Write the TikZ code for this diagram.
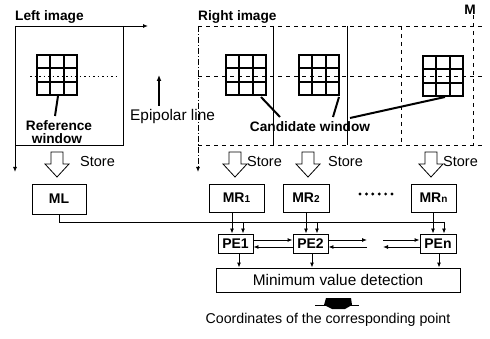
\documentclass[tikz,border=0pt]{standalone}
\usepackage{fontspec}
\setmainfont{Liberation Sans}
\usetikzlibrary{arrows.meta}
\begin{document}
\begin{tikzpicture}[x=1pt,y=-1pt,
  ar/.style={-{Latex[length=5pt,width=4pt]}, line width=0.9pt},
  ln/.style={line width=0.9pt},
  dsh/.style={line width=0.6pt, dash pattern=on 4pt off 4pt},
  dot/.style={line width=0.7pt, dash pattern=on 1.5pt off 3pt},
  box/.style={draw, line width=0.9pt, inner sep=0pt, font=\bfseries\fontsize{14}{16}\selectfont},
  lbl/.style={inner sep=0pt, font=\bfseries\fontsize{13.7}{15}\selectfont},
  txt/.style={inner sep=0pt, font=\fontsize{14.5}{16}\selectfont},
  ptr/.style={line width=2pt},
  store/.style={draw, line width=0.8pt, fill=white},
  win/.pic={\draw[line width=1.8pt] (0,0) rectangle (40,40);
            \draw[line width=1.8pt] (13.33,0)--(13.33,40) (26.67,0)--(26.67,40)
                                    (0,13.33)--(40,13.33) (0,26.67)--(40,26.67);}]
\useasboundingbox[fill=white] (0,0) rectangle (490,339);

% ---------- left image ----------
\node[lbl, anchor=base west] (lefttitle) at (15,21) {Left image};
\coordinate (lo) at (15,26);
\coordinate (lx) at (148,26);
\coordinate (ly) at (15,172);
\draw[ar] (lo) -- (lx);
\draw[ar] (lo) -- (ly);
\draw[ln] (123,26) -- (123,145) -- (15,145);
\draw[dot] (30,76) -- (118,76);
\pic at (37,55) {win};
\coordinate (rw) at (58,96);
\node[lbl] (ref1) at (59,126) {Reference};
\node[lbl] (ref2) at (57,139) {window};
\draw[ptr] (rw) -- (55,116);

% epipolar
\coordinate (ep0) at (159,106);
\coordinate (ep1) at (159,75);
\draw[-{Latex[length=6pt,width=5pt]}, line width=2pt] (ep0) -- (ep1);
\node[txt, anchor=base west, font=\fontsize{15.4}{17}\selectfont] (epi) at (130,121) {Epipolar line};

% ---------- right image ----------
\node[lbl, anchor=base west] (righttitle) at (198,21) {Right image};
\node[lbl, anchor=base] (M) at (470,15) {M};
\coordinate (ro) at (198,26);
\coordinate (ry) at (198,172);
\draw[ar, dash pattern=on 6pt off 2pt on 1pt off 2pt] (ro) -- (ry);
\draw[dsh] (ro) -- (482,26);
\draw[dsh] (198,145) -- (482,145);
\draw[dsh] (198,76) -- (482,76);
\draw[line width=0.7pt] (273,26) -- (273,145);
\draw[line width=0.7pt] (347,26) -- (347,145);
\draw[dsh] (401,26) -- (401,145);
\draw[dsh] (M.south) ++(3,0) coordinate (mtop) -- (mtop |- 0,145);
\pic at (226,55) {win};
\pic at (299,55) {win};
\pic at (423,56) {win};
\node[lbl] (cand) at (310,127) {Candidate window};
\draw[ptr] (261,97) -- (280,117);
\draw[ptr] (339,97) -- (333,117);
\draw[ptr] (445,97) -- (350,118);

% ---------- store arrows ----------
\foreach \cx/\nm in {57/s0,235/s1,308/s2,431/s3}{
  \draw[store] (\cx-6,152) -- (\cx+6,152) -- (\cx+6,164) -- (\cx+12,164) -- (\cx,177)
     -- (\cx-12,164) -- (\cx-6,164) -- cycle;
}
\node[txt, anchor=base west] (st0) at (80,167) {Store};
\node[txt, anchor=base west] (st1) at (247,167) {Store};
\node[txt, anchor=base west] (st2) at (328,167) {Store};
\node[txt, anchor=base west] (st3) at (443,167) {Store};

% ---------- memories ----------
\node[box, minimum width=54pt, minimum height=30pt] (ML) at (59,199) {ML};
\node[box, minimum width=55pt, minimum height=28pt] (MR1) at (236.5,198) {MR{\fontsize{10}{10}\selectfont 1}};
\node[box, minimum width=46pt, minimum height=28pt] (MR2) at (306,198) {MR{\fontsize{10}{10}\selectfont 2}};
\node[box, minimum width=45pt, minimum height=28pt] (MRn) at (433.5,198) {MR{\fontsize{10}{10}\selectfont n}};
\foreach \i in {0,...,5}{ \fill (360+6.4*\i,194) circle (1.6pt); }

% ---------- processing elements ----------
\node[box, minimum width=35pt, minimum height=19pt] (PE1) at (235.5,243.5) {PE1};
\node[box, minimum width=35pt, minimum height=19pt] (PE2) at (310.5,243.5) {PE2};
\node[box, minimum width=36pt, minimum height=19pt] (PEn) at (438,243.5) {PEn};
\node[draw, line width=0.9pt, minimum width=244pt, minimum height=24pt, inner sep=0pt,
      font=\fontsize{15.4}{17}\selectfont] (MIN) at (338,280) {Minimum value detection};

% bus
\coordinate (busend) at (444,222);
\draw[ln] (ML.south) |- (busend);
\coordinate (j1) at (243,222);
\coordinate (j2) at (317,222);
\coordinate (j3) at (444,222);
\draw[ar] (j1) -- (j1 |- PE1.north);
\draw[ar] (j2) -- (j2 |- PE2.north);
\draw[ar] (j3) -- (j3 |- PEn.north);

% MR -> PE
\draw[ar] ([xshift=-4.5pt]MR1.south) -- ([xshift=-4.5pt]MR1.south |- PE1.north);
\draw[ar] (MR2.south) -- (MR2.south |- PE2.north);
\draw[ar] ([xshift=-0.5pt]MRn.south) -- ([xshift=-0.5pt]MRn.south |- PEn.north);

% PE links
\draw[ar] ([yshift=3.5pt]PE1.east) -- ([yshift=3.5pt]PE2.west);
\draw[ar] ([yshift=-3.5pt]PE2.west) -- ([yshift=-3.5pt]PE1.east);
\coordinate (r1) at (367,240);
\coordinate (r2) at (367,247);
\coordinate (l1) at (383,240);
\coordinate (l2) at (383,247);
\draw[ar] ([yshift=3.5pt]PE2.east) -- (r1);
\draw[ar] (r2) -- ([yshift=-3.5pt]PE2.east);
\draw[ar] (l1) -- ([yshift=3.5pt]PEn.west);
\draw[ar] ([yshift=-3.5pt]PEn.west) -- (l2);

% PE -> min
\draw[ar] ([xshift=3.5pt]PE1.south) -- ([xshift=3.5pt]PE1.south |- MIN.north);
\draw[ar] ([xshift=1.5pt]PE2.south) -- ([xshift=1.5pt]PE2.south |- MIN.north);
\draw[ar] ([xshift=1pt]PEn.south) -- ([xshift=1pt]PEn.south |- MIN.north);

% output
\draw[line width=0.6pt] (315,305) -- (359,305);
\fill (326,298) -- (351,298) -- (352,305) -- (345,309) -- (332,309) -- (324,305) -- cycle;
\node[txt, font=\fontsize{14.2}{16}\selectfont] (coord) at (328,320) {Coordinates of the corresponding point};
\end{tikzpicture}
\end{document}
